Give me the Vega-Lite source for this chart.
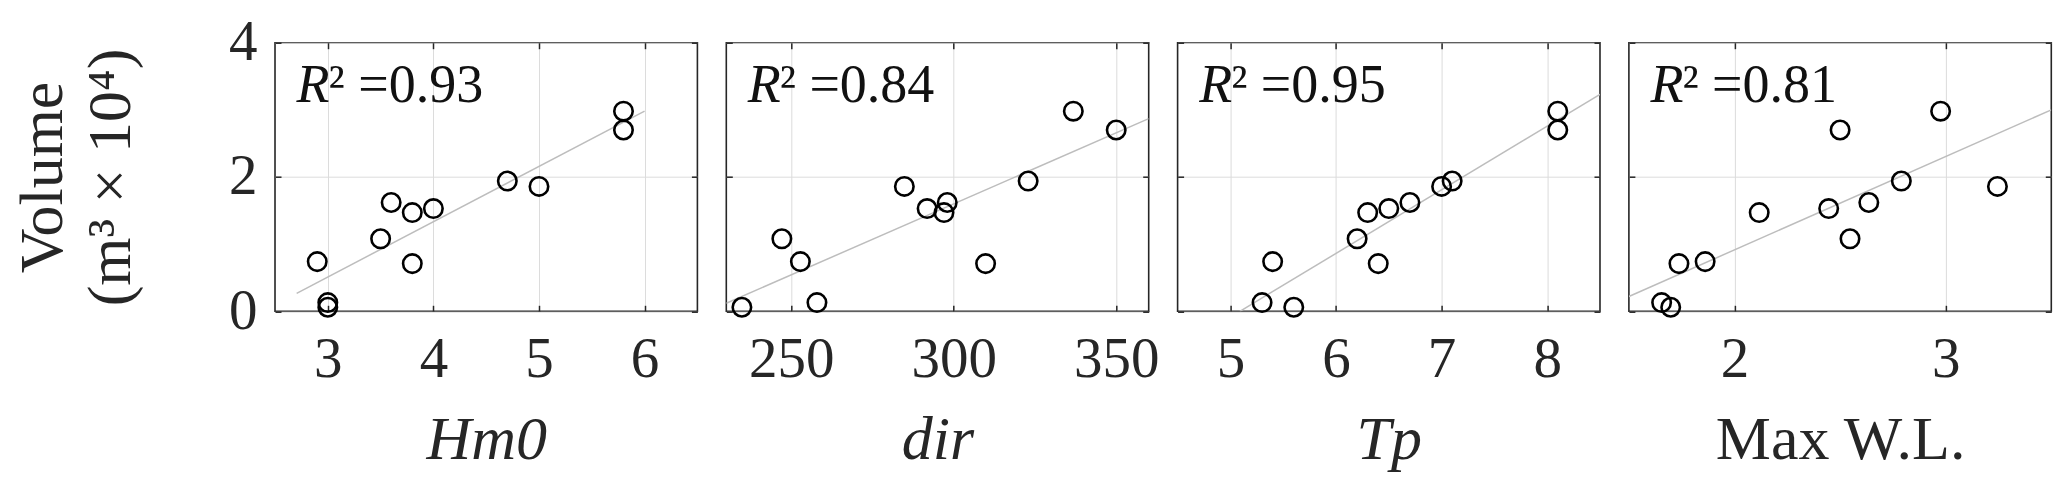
{
  "$schema": "https://vega.github.io/schema/vega-lite/v6.json",
  "autosize": {"type": "none"},
  "padding": {"left": 275, "top": 42.7, "right": 1792, "bottom": 438.3},
  "background": "white",
  "spacing": 28.3,
  "bounds": "flush",
  "datasets": {
    "pts": [
      {"panel": "Hm0", "x": 2.9, "v": 0.74},
      {"panel": "Hm0", "x": 3.0, "v": 0.13},
      {"panel": "Hm0", "x": 3.0, "v": 0.06},
      {"panel": "Hm0", "x": 3.5, "v": 1.08},
      {"panel": "Hm0", "x": 3.6, "v": 1.62},
      {"panel": "Hm0", "x": 3.8, "v": 1.47},
      {"panel": "Hm0", "x": 3.8, "v": 0.71},
      {"panel": "Hm0", "x": 4.0, "v": 1.53},
      {"panel": "Hm0", "x": 4.7, "v": 1.94},
      {"panel": "Hm0", "x": 5.0, "v": 1.86},
      {"panel": "Hm0", "x": 5.8, "v": 2.98},
      {"panel": "Hm0", "x": 5.8, "v": 2.7},
      {"panel": "dir", "x": 234.8, "v": 0.06},
      {"panel": "dir", "x": 247.1, "v": 1.08},
      {"panel": "dir", "x": 252.8, "v": 0.74},
      {"panel": "dir", "x": 257.9, "v": 0.13},
      {"panel": "dir", "x": 284.8, "v": 1.86},
      {"panel": "dir", "x": 291.8, "v": 1.53},
      {"panel": "dir", "x": 298.0, "v": 1.62},
      {"panel": "dir", "x": 297.0, "v": 1.47},
      {"panel": "dir", "x": 309.8, "v": 0.71},
      {"panel": "dir", "x": 322.9, "v": 1.94},
      {"panel": "dir", "x": 336.8, "v": 2.98},
      {"panel": "dir", "x": 350.0, "v": 2.7},
      {"panel": "Tp", "x": 5.3, "v": 0.13},
      {"panel": "Tp", "x": 5.4, "v": 0.74},
      {"panel": "Tp", "x": 5.6, "v": 0.06},
      {"panel": "Tp", "x": 6.2, "v": 1.08},
      {"panel": "Tp", "x": 6.3, "v": 1.47},
      {"panel": "Tp", "x": 6.5, "v": 1.53},
      {"panel": "Tp", "x": 6.4, "v": 0.71},
      {"panel": "Tp", "x": 6.7, "v": 1.62},
      {"panel": "Tp", "x": 7.0, "v": 1.86},
      {"panel": "Tp", "x": 7.1, "v": 1.94},
      {"panel": "Tp", "x": 8.1, "v": 2.98},
      {"panel": "Tp", "x": 8.1, "v": 2.7},
      {"panel": "WL", "x": 1.655, "v": 0.13},
      {"panel": "WL", "x": 1.698, "v": 0.06},
      {"panel": "WL", "x": 1.737, "v": 0.71},
      {"panel": "WL", "x": 1.861, "v": 0.74},
      {"panel": "WL", "x": 2.117, "v": 1.47},
      {"panel": "WL", "x": 2.446, "v": 1.53},
      {"panel": "WL", "x": 2.5, "v": 2.7},
      {"panel": "WL", "x": 2.547, "v": 1.08},
      {"panel": "WL", "x": 2.636, "v": 1.62},
      {"panel": "WL", "x": 2.79, "v": 1.94},
      {"panel": "WL", "x": 2.976, "v": 2.98},
      {"panel": "WL", "x": 3.245, "v": 1.86}
    ],
    "fit": [
      {"panel": "Hm0", "x": 2.705, "v": 0.268},
      {"panel": "Hm0", "x": 6.0, "v": 2.98},
      {"panel": "dir", "x": 230, "v": 0.12},
      {"panel": "dir", "x": 360, "v": 2.87},
      {"panel": "Tp", "x": 5.09, "v": 0.0},
      {"panel": "Tp", "x": 8.5, "v": 3.23},
      {"panel": "WL", "x": 1.5, "v": 0.22},
      {"panel": "WL", "x": 3.5, "v": 3.0}
    ],
    "r2": [
      {"panel": "Hm0", "r": "R", "rest": "² =0.93"},
      {"panel": "dir", "r": "R", "rest": "² =0.84"},
      {"panel": "Tp", "r": "R", "rest": "² =0.95"},
      {"panel": "WL", "r": "R", "rest": "² =0.81"}
    ]
  },
  "hconcat": [
    {
      "width": 422.4,
      "height": 268.6,
      "layer": [
        {
          "data": {"name": "fit"},
          "transform": [{"filter": "datum.panel === 'Hm0'"}],
          "mark": {"type": "line", "color": "#bdbdbd", "strokeWidth": 1.5, "clip": true},
          "encoding": {
            "x": {"field": "x", "type": "quantitative", "scale": {"domain": [2.5, 6.5], "nice": false, "zero": false},
                  "axis": {"orient": "top", "values": [3, 4, 5, 6], "labels": false, "grid": false, "title": null, "tickSize": -6, "domain": false}},
            "y": {"field": "v", "type": "quantitative", "scale": {"domain": [0, 4], "nice": false},
                  "axis": {"orient": "right", "values": [0, 2, 4], "labels": false, "grid": false, "title": null, "tickSize": -6, "domain": false}}
          }
        },
        {
          "data": {"name": "pts"},
          "transform": [{"filter": "datum.panel === 'Hm0'"}],
          "mark": {"type": "point", "shape": "circle", "size": 340, "strokeWidth": 2.6, "color": "black", "opacity": 1, "filled": false},
          "encoding": {
            "x": {"field": "x", "type": "quantitative",
                  "axis": {"orient": "bottom", "values": [3, 4, 5, 6], "grid": true, "title": "Hm0", "titleFontStyle": "italic", "tickSize": -6, "labelPadding": 26, "titlePadding": 22, "domain": false}},
            "y": {"field": "v", "type": "quantitative",
                  "axis": {"orient": "left", "values": [0, 2, 4], "grid": true, "title": ["Volume", "(m³ × 10⁴)"], "titleFontSize": 62, "titleLineHeight": 68, "titlePadding": 86, "tickSize": -6, "labelPadding": 24, "domain": false}}
          }
        },
        {
          "data": {"name": "r2"},
          "transform": [{"filter": "datum.panel === 'Hm0'"}],
          "mark": {"type": "text", "align": "left", "baseline": "alphabetic", "fontStyle": "italic", "fontSize": 54, "font": "Liberation Serif", "color": "#111111"},
          "encoding": {
            "x": {"datum": 2.704, "type": "quantitative", "axis": null},
            "y": {"datum": 3.11, "type": "quantitative", "axis": null},
            "text": {"field": "r"}
          }
        },
        {
          "data": {"name": "r2"},
          "transform": [{"filter": "datum.panel === 'Hm0'"}],
          "mark": {"type": "text", "align": "left", "baseline": "alphabetic", "fontSize": 54, "font": "Liberation Serif", "color": "#111111", "dx": 32},
          "encoding": {
            "x": {"datum": 2.704, "type": "quantitative", "axis": null},
            "y": {"datum": 3.11, "type": "quantitative", "axis": null},
            "text": {"field": "rest"}
          }
        }
      ],
      "resolve": {"axis": {"x": "independent", "y": "independent"}}
    },
    {
      "width": 422.4,
      "height": 268.6,
      "layer": [
        {
          "data": {"name": "fit"},
          "transform": [{"filter": "datum.panel === 'dir'"}],
          "mark": {"type": "line", "color": "#bdbdbd", "strokeWidth": 1.5, "clip": true},
          "encoding": {
            "x": {"field": "x", "type": "quantitative", "scale": {"domain": [230, 360], "nice": false, "zero": false},
                  "axis": {"orient": "top", "values": [250, 300, 350], "labels": false, "grid": false, "title": null, "tickSize": -6, "domain": false}},
            "y": {"field": "v", "type": "quantitative", "scale": {"domain": [0, 4], "nice": false},
                  "axis": {"orient": "right", "values": [0, 2, 4], "labels": false, "grid": false, "title": null, "tickSize": -6, "domain": false}}
          }
        },
        {
          "data": {"name": "pts"},
          "transform": [{"filter": "datum.panel === 'dir'"}],
          "mark": {"type": "point", "shape": "circle", "size": 340, "strokeWidth": 2.6, "color": "black", "opacity": 1, "filled": false},
          "encoding": {
            "x": {"field": "x", "type": "quantitative",
                  "axis": {"orient": "bottom", "values": [250, 300, 350], "grid": true, "title": "dir", "titleFontStyle": "italic", "tickSize": -6, "labelPadding": 26, "titlePadding": 22, "domain": false}},
            "y": {"field": "v", "type": "quantitative",
                  "axis": {"orient": "left", "values": [0, 2, 4], "grid": true, "labels": false, "title": null, "tickSize": -6, "domain": false}}
          }
        },
        {
          "data": {"name": "r2"},
          "transform": [{"filter": "datum.panel === 'dir'"}],
          "mark": {"type": "text", "align": "left", "baseline": "alphabetic", "fontStyle": "italic", "fontSize": 54, "font": "Liberation Serif", "color": "#111111"},
          "encoding": {
            "x": {"datum": 236.6, "type": "quantitative", "axis": null},
            "y": {"datum": 3.11, "type": "quantitative", "axis": null},
            "text": {"field": "r"}
          }
        },
        {
          "data": {"name": "r2"},
          "transform": [{"filter": "datum.panel === 'dir'"}],
          "mark": {"type": "text", "align": "left", "baseline": "alphabetic", "fontSize": 54, "font": "Liberation Serif", "color": "#111111", "dx": 32},
          "encoding": {
            "x": {"datum": 236.6, "type": "quantitative", "axis": null},
            "y": {"datum": 3.11, "type": "quantitative", "axis": null},
            "text": {"field": "rest"}
          }
        }
      ],
      "resolve": {"axis": {"x": "independent", "y": "independent"}}
    },
    {
      "width": 422.4,
      "height": 268.6,
      "layer": [
        {
          "data": {"name": "fit"},
          "transform": [{"filter": "datum.panel === 'Tp'"}],
          "mark": {"type": "line", "color": "#bdbdbd", "strokeWidth": 1.5, "clip": true},
          "encoding": {
            "x": {"field": "x", "type": "quantitative", "scale": {"domain": [4.5, 8.5], "nice": false, "zero": false},
                  "axis": {"orient": "top", "values": [5, 6, 7, 8], "labels": false, "grid": false, "title": null, "tickSize": -6, "domain": false}},
            "y": {"field": "v", "type": "quantitative", "scale": {"domain": [0, 4], "nice": false},
                  "axis": {"orient": "right", "values": [0, 2, 4], "labels": false, "grid": false, "title": null, "tickSize": -6, "domain": false}}
          }
        },
        {
          "data": {"name": "pts"},
          "transform": [{"filter": "datum.panel === 'Tp'"}],
          "mark": {"type": "point", "shape": "circle", "size": 340, "strokeWidth": 2.6, "color": "black", "opacity": 1, "filled": false},
          "encoding": {
            "x": {"field": "x", "type": "quantitative",
                  "axis": {"orient": "bottom", "values": [5, 6, 7, 8], "grid": true, "title": "Tp", "titleFontStyle": "italic", "tickSize": -6, "labelPadding": 26, "titlePadding": 22, "domain": false}},
            "y": {"field": "v", "type": "quantitative",
                  "axis": {"orient": "left", "values": [0, 2, 4], "grid": true, "labels": false, "title": null, "tickSize": -6, "domain": false}}
          }
        },
        {
          "data": {"name": "r2"},
          "transform": [{"filter": "datum.panel === 'Tp'"}],
          "mark": {"type": "text", "align": "left", "baseline": "alphabetic", "fontStyle": "italic", "fontSize": 54, "font": "Liberation Serif", "color": "#111111"},
          "encoding": {
            "x": {"datum": 4.704, "type": "quantitative", "axis": null},
            "y": {"datum": 3.11, "type": "quantitative", "axis": null},
            "text": {"field": "r"}
          }
        },
        {
          "data": {"name": "r2"},
          "transform": [{"filter": "datum.panel === 'Tp'"}],
          "mark": {"type": "text", "align": "left", "baseline": "alphabetic", "fontSize": 54, "font": "Liberation Serif", "color": "#111111", "dx": 32},
          "encoding": {
            "x": {"datum": 4.704, "type": "quantitative", "axis": null},
            "y": {"datum": 3.11, "type": "quantitative", "axis": null},
            "text": {"field": "rest"}
          }
        }
      ],
      "resolve": {"axis": {"x": "independent", "y": "independent"}}
    },
    {
      "width": 422.4,
      "height": 268.6,
      "layer": [
        {
          "data": {"name": "fit"},
          "transform": [{"filter": "datum.panel === 'WL'"}],
          "mark": {"type": "line", "color": "#bdbdbd", "strokeWidth": 1.5, "clip": true},
          "encoding": {
            "x": {"field": "x", "type": "quantitative", "scale": {"domain": [1.5, 3.5], "nice": false, "zero": false},
                  "axis": {"orient": "top", "values": [2, 3], "labels": false, "grid": false, "title": null, "tickSize": -6, "domain": false}},
            "y": {"field": "v", "type": "quantitative", "scale": {"domain": [0, 4], "nice": false},
                  "axis": {"orient": "right", "values": [0, 2, 4], "labels": false, "grid": false, "title": null, "tickSize": -6, "domain": false}}
          }
        },
        {
          "data": {"name": "pts"},
          "transform": [{"filter": "datum.panel === 'WL'"}],
          "mark": {"type": "point", "shape": "circle", "size": 340, "strokeWidth": 2.6, "color": "black", "opacity": 1, "filled": false},
          "encoding": {
            "x": {"field": "x", "type": "quantitative",
                  "axis": {"orient": "bottom", "values": [2, 3], "grid": true, "title": "Max W.L.", "tickSize": -6, "labelPadding": 26, "titlePadding": 22, "domain": false}},
            "y": {"field": "v", "type": "quantitative",
                  "axis": {"orient": "left", "values": [0, 2, 4], "grid": true, "labels": false, "title": null, "tickSize": -6, "domain": false}}
          }
        },
        {
          "data": {"name": "r2"},
          "transform": [{"filter": "datum.panel === 'WL'"}],
          "mark": {"type": "text", "align": "left", "baseline": "alphabetic", "fontStyle": "italic", "fontSize": 54, "font": "Liberation Serif", "color": "#111111"},
          "encoding": {
            "x": {"datum": 1.602, "type": "quantitative", "axis": null},
            "y": {"datum": 3.11, "type": "quantitative", "axis": null},
            "text": {"field": "r"}
          }
        },
        {
          "data": {"name": "r2"},
          "transform": [{"filter": "datum.panel === 'WL'"}],
          "mark": {"type": "text", "align": "left", "baseline": "alphabetic", "fontSize": 54, "font": "Liberation Serif", "color": "#111111", "dx": 32},
          "encoding": {
            "x": {"datum": 1.602, "type": "quantitative", "axis": null},
            "y": {"datum": 3.11, "type": "quantitative", "axis": null},
            "text": {"field": "rest"}
          }
        }
      ],
      "resolve": {"axis": {"x": "independent", "y": "independent"}}
    }
  ],
  "config": {
    "view": {"stroke": "#262626", "strokeWidth": 1.6},
    "font": "Liberation Serif",
    "axis": {
      "gridColor": "#dcdcdc",
      "gridWidth": 1,
      "gridOpacity": 1,
      "tickColor": "#262626",
      "tickWidth": 1.5,
      "labelColor": "#262626",
      "titleColor": "#262626",
      "labelFont": "Liberation Serif",
      "titleFont": "Liberation Serif",
      "labelFontSize": 57,
      "titleFontSize": 62,
      "titleFontWeight": "normal"
    }
  }
}
